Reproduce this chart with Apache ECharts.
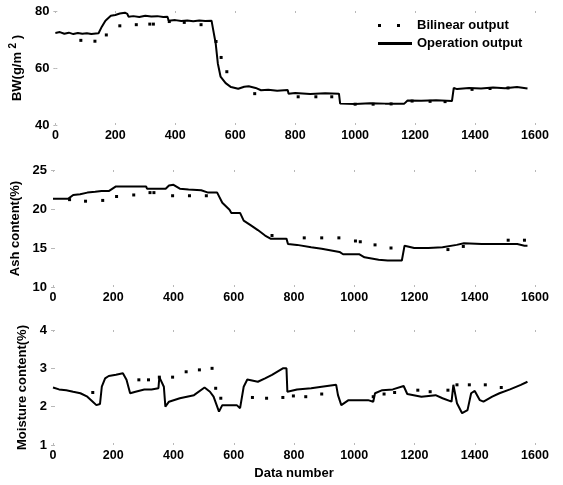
<!DOCTYPE html>
<html>
<head>
<meta charset="utf-8">
<title>Bilinear vs operation output</title>
<script src="https://cdn.jsdelivr.net/npm/echarts@6/dist/echarts.min.js"></script>
<style>
  html, body { margin: 0; padding: 0; background: #fff; }
  #chart { width: 563px; height: 485px; }
</style>
</head>
<body>
<div id="chart"></div>
<script>
// data: [data number, value]
const xTicks = [0, 200, 400, 600, 800, 1000, 1200, 1400, 1600]

const bwOperation = [
  [0, 72.3], [15, 72.6], [30, 72.0], [45, 72.4], [60, 71.9], [75, 72.3], [90, 72.0], [105, 72.2],
  [120, 71.9], [135, 72.1], [144, 72.2], [155, 74.5], [167, 76.6], [185, 78.3], [200, 78.6],
  [215, 79.1], [232, 79.4], [240, 79.0], [244, 78.0], [260, 78.2], [280, 77.9], [300, 78.3],
  [320, 78.1], [340, 78.2], [360, 77.9], [374, 78.0], [378, 76.6], [400, 76.8], [420, 76.5],
  [440, 76.7], [460, 76.4], [480, 76.7], [500, 76.5], [521, 76.6], [527, 73.1], [535, 68.5],
  [542, 61.6], [551, 57.0], [568, 54.7], [586, 53.3], [610, 52.7], [630, 53.4], [645, 53.6],
  [668, 53.0], [686, 52.2], [710, 52.4], [740, 52.0], [775, 52.3], [778, 51.0], [800, 51.2],
  [850, 50.9], [900, 51.1], [946, 51.0], [950, 47.5], [1000, 47.4], [1050, 47.6], [1100, 47.5],
  [1164, 47.5], [1175, 48.6], [1220, 48.5], [1270, 48.7], [1323, 48.4], [1329, 53.0], [1340, 52.6],
  [1380, 53.0], [1420, 52.8], [1460, 53.2], [1500, 52.9], [1540, 53.3], [1575, 52.8]
]
const bwBilinear = [
  [85, 69.7], [132, 69.4], [170, 71.6], [215, 74.8], [270, 75.2], [315, 75.4], [327, 75.4],
  [380, 76.3], [430, 76.0], [486, 75.2], [536, 69.3], [553, 63.7], [572, 58.7], [665, 51.0],
  [810, 49.9], [869, 49.9], [922, 49.9], [1000, 47.3], [1060, 47.3], [1120, 47.4], [1190, 48.4],
  [1250, 48.3], [1300, 48.2], [1390, 52.5], [1450, 52.8], [1510, 53.0]
]

const ashOperation = [
  [0, 21.3], [25, 21.3], [50, 21.3], [67, 21.8], [90, 21.9], [114, 22.1], [140, 22.2], [161, 22.3],
  [185, 22.3], [209, 22.9], [240, 22.9], [270, 22.9], [309, 22.9], [312, 22.6], [340, 22.6],
  [374, 22.6], [385, 23.0], [400, 23.1], [421, 22.6], [450, 22.5], [492, 22.4], [515, 22.1],
  [545, 22.1], [562, 20.8], [586, 19.9], [592, 19.5], [621, 19.5], [633, 18.5], [657, 17.9],
  [680, 17.3], [704, 16.6], [722, 16.2], [775, 16.2], [780, 15.5], [810, 15.4], [857, 15.1],
  [892, 14.9], [951, 14.5], [963, 14.2], [1016, 14.2], [1034, 13.8], [1081, 13.5], [1111, 13.4],
  [1158, 13.4], [1164, 13.2], [1167, 15.3], [1199, 15.0], [1246, 15.0], [1293, 15.1],
  [1340, 15.4], [1364, 15.6], [1423, 15.5], [1482, 15.5], [1541, 15.5], [1565, 15.3], [1575, 15.3]
]
const ashBilinear = [
  [55, 21.2], [108, 21.0], [165, 21.1], [211, 21.6], [268, 21.8], [322, 22.1], [335, 22.1],
  [397, 21.7], [453, 21.7], [509, 21.7], [727, 16.6], [834, 16.3], [892, 16.3], [949, 16.3],
  [1004, 15.9], [1020, 15.8], [1069, 15.4], [1122, 15.0], [1311, 14.8], [1362, 15.2],
  [1511, 16.0], [1565, 16.0]
]

const moistOperation = [
  [0, 2.50], [20, 2.45], [44, 2.43], [67, 2.39], [91, 2.35], [114, 2.26], [132, 2.13], [144, 2.04],
  [156, 2.07], [162, 2.52], [173, 2.74], [185, 2.80], [209, 2.83], [232, 2.87], [244, 2.70],
  [256, 2.35], [274, 2.39], [303, 2.45], [327, 2.45], [350, 2.48], [353, 2.77], [368, 2.52],
  [373, 2.00], [385, 2.13], [421, 2.22], [468, 2.30], [503, 2.50], [521, 2.39], [533, 2.26],
  [551, 1.87], [562, 2.04], [610, 2.04], [621, 1.96], [633, 2.52], [645, 2.71], [680, 2.65],
  [704, 2.74], [727, 2.83], [763, 3.00], [775, 3.00], [778, 2.39], [810, 2.45], [857, 2.48],
  [892, 2.52], [940, 2.57], [946, 2.30], [957, 2.04], [981, 2.17], [1046, 2.17], [1063, 2.13],
  [1069, 2.35], [1093, 2.43], [1128, 2.45], [1164, 2.54], [1176, 2.33], [1223, 2.26], [1270, 2.30],
  [1293, 2.22], [1323, 2.13], [1329, 2.57], [1341, 2.09], [1358, 1.83], [1376, 1.91], [1388, 2.35],
  [1400, 2.41], [1417, 2.17], [1429, 2.13], [1458, 2.26], [1482, 2.35], [1517, 2.45], [1553, 2.57],
  [1575, 2.65]
]
const moistBilinear = [
  [132, 2.37], [285, 2.70], [317, 2.70], [353, 2.77], [397, 2.77], [442, 2.91], [486, 2.96],
  [528, 3.00], [540, 2.48], [557, 2.22], [662, 2.24], [709, 2.22], [763, 2.24], [798, 2.28],
  [839, 2.26], [892, 2.33], [1063, 2.26], [1099, 2.33], [1134, 2.37], [1211, 2.43], [1252, 2.39],
  [1311, 2.43], [1341, 2.57], [1382, 2.57], [1435, 2.57], [1488, 2.50]
]

const panels = [
  { name: 'BW(g/m {sup|2} )', min: 40, max: 80, interval: 20, gap: 27, op: bwOperation, bi: bwBilinear },
  { name: 'Ash content(%)', min: 10, max: 25, interval: 5, gap: 24, op: ashOperation, bi: ashBilinear },
  { name: 'Moisture content(%)', min: 1, max: 4, interval: 1, gap: 14, op: moistOperation, bi: moistBilinear }
]

const font = 'Liberation Sans, Arial, Helvetica, sans-serif'
const tickColor = '#b8b8b8'

const chart = echarts.init(document.getElementById('chart'), null, { renderer: 'canvas' })

const grids = [
  { left: 53, right: 28, top: 11, height: 114 },
  { left: 53, right: 28, top: 170, height: 117 },
  { left: 53, right: 28, top: 330, height: 115 }
]

const xAxes = []
const yAxes = []
const series = []

panels.forEach((p, i) => {
  xAxes.push({
    type: 'value', gridIndex: i, min: xTicks[0], max: xTicks[xTicks.length - 1], interval: xTicks[1] - xTicks[0],
    axisLine: { show: false },
    axisTick: { show: true, inside: true, length: 2, lineStyle: { color: tickColor } },
    splitLine: { show: false },
    axisLabel: {
      color: '#000', fontFamily: font, fontWeight: 'bold', fontSize: 12.5, margin: 4,
      formatter: (v) => String(v)
    },
    name: i === 2 ? 'Data number' : '',
    nameLocation: 'middle', nameGap: 22,
    nameTextStyle: { color: '#000', fontFamily: font, fontWeight: 'bold', fontSize: 13 }
  })
  yAxes.push({
    type: 'value', gridIndex: i, min: p.min, max: p.max, interval: p.interval,
    axisLine: { show: false },
    axisTick: { show: true, inside: true, length: 2, lineStyle: { color: tickColor } },
    splitLine: { show: false },
    axisLabel: { color: '#000', fontFamily: font, fontWeight: 'bold', fontSize: 13, margin: 6 },
    name: p.name, nameLocation: 'middle', nameGap: p.gap, nameRotate: 90,
    nameTextStyle: {
      color: '#000', fontFamily: font, fontWeight: 'bold', fontSize: 13,
      rich: { sup: { fontFamily: font, fontWeight: 'bold', fontSize: 10, padding: [0, 0, 9, 0] } }
    }
  })
  series.push({
    name: 'Operation output', type: 'line', xAxisIndex: i, yAxisIndex: i,
    data: p.op, showSymbol: false, symbol: 'none',
    lineStyle: { color: '#000', width: 2 }, itemStyle: { color: '#000' },
    animation: false, z: 3
  })
  series.push({
    name: 'Bilinear output', type: 'scatter', xAxisIndex: i, yAxisIndex: i,
    data: p.bi, symbol: 'rect', symbolSize: 3,
    itemStyle: { color: '#000', opacity: 1 }, animation: false, z: 4
  })
})

// mirrored ticks on top and right, like a boxed matlab axes
panels.forEach((p, i) => {
  xAxes.push({
    type: 'value', gridIndex: i, position: 'top', min: 0, max: 1600, interval: 200,
    axisLine: { show: false }, axisLabel: { show: false }, splitLine: { show: false },
    axisTick: { show: true, inside: true, length: 2, lineStyle: { color: tickColor } }
  })
  yAxes.push({
    type: 'value', gridIndex: i, position: 'right', min: p.min, max: p.max, interval: p.interval,
    axisLine: { show: false }, axisLabel: { show: false }, splitLine: { show: false },
    axisTick: { show: true, inside: true, length: 2, lineStyle: { color: tickColor } }
  })
})

chart.setOption({
  backgroundColor: '#fff',
  animation: false,
  grid: grids,
  xAxis: xAxes,
  yAxis: yAxes,
  legend: {
    orient: 'vertical', left: 373, top: 14, itemGap: 5,
    itemWidth: 34, itemHeight: 3,
    textStyle: { color: '#000', fontFamily: font, fontWeight: 'bold', fontSize: 13 },
    data: [
      { name: 'Bilinear output', icon: 'path://M0,0h3v3h-3zM19,0h3v3h-3zM34,1.5h0.01v0.01h-0.01z', itemStyle: { color: '#000', opacity: 1 } },
      { name: 'Operation output', icon: 'rect' }
    ]
  },
  series: series
})
</script>
</body>
</html>
